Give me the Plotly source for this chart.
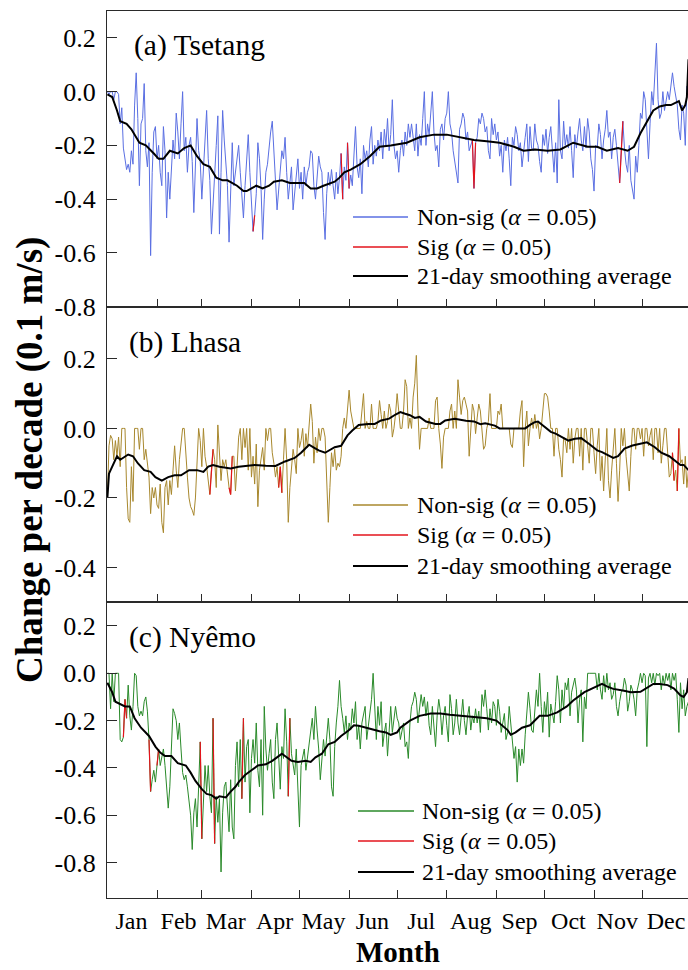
import plotly.graph_objects as go
from plotly.subplots import make_subplots

# ---------------- data ----------------
days = list(range(1, 366))
month_names = ["Jan", "Feb", "Mar", "Apr", "May", "Jun", "Jul", "Aug", "Sep", "Oct", "Nov", "Dec"]
month_mid = [16, 45.5, 75, 105.5, 136, 166.5, 197, 228, 258.5, 289, 319.5, 350]
month_start = [32, 60, 91, 121, 152, 182, 213, 244, 274, 305, 335]

ytick_a = [0.2, 0.0, -0.2, -0.4, -0.6, -0.8]
ytick_b = [0.2, 0.0, -0.2, -0.4]
ytick_c = [0.2, 0.0, -0.2, -0.4, -0.6, -0.8]

tsetang_daily = [
    0.0, -0.01, 0.0, 0.0, -0.03, 0.0, 0.0, -0.01, -0.12, -0.06,
    -0.21, -0.25, -0.29, -0.27, -0.30, -0.22, -0.27, -0.05, 0.07, -0.10,
    -0.35, -0.12, -0.10, 0.03, -0.22, -0.28, -0.19, -0.61, -0.30, -0.15,
    -0.13, -0.25, -0.20, -0.30, -0.35, -0.13, -0.22, -0.47, -0.30, -0.40,
    -0.26, -0.18, -0.25, -0.08, -0.15, -0.25, -0.12, 0.0, -0.22, -0.17,
    -0.30, -0.20, -0.17, -0.26, -0.45, -0.30, -0.10, -0.22, -0.26, -0.40,
    -0.30, -0.20, -0.07, -0.25, -0.33, -0.53, -0.40, -0.28, -0.20, -0.09,
    -0.53, -0.30, -0.07, -0.18, -0.26, -0.35, -0.56, -0.40, -0.19, -0.35,
    -0.30, -0.24, -0.20, -0.30, -0.38, -0.47, -0.35, -0.25, -0.16, -0.30,
    -0.40, -0.52, -0.46, -0.38, -0.19, -0.25, -0.36, -0.55, -0.40, -0.30,
    -0.27, -0.20, -0.15, -0.11, -0.25, -0.33, -0.44, -0.36, -0.28, -0.22,
    -0.25, -0.17, -0.30, -0.40, -0.34, -0.28, -0.44, -0.38, -0.30, -0.25,
    -0.36, -0.30, -0.40, -0.28, -0.35, -0.30, -0.28, -0.22, -0.23, -0.35,
    -0.40, -0.30, -0.24, -0.28, -0.30, -0.45, -0.55, -0.38, -0.30, -0.35,
    -0.29, -0.35, -0.40, -0.30, -0.38, -0.32, -0.23, -0.40, -0.28, -0.33,
    -0.19, -0.36, -0.31, -0.35, -0.25, -0.13, -0.28, -0.32, -0.25, -0.38,
    -0.20, -0.25, -0.22, -0.28, -0.18, -0.13, -0.27, -0.20, -0.24, -0.18,
    -0.22, -0.15, -0.25, -0.14, -0.20, -0.10, -0.22, -0.16, -0.03, -0.20,
    -0.25, -0.22, -0.30, -0.22, -0.18, -0.24, -0.15, -0.20, -0.12, -0.17,
    -0.12, -0.18, -0.22, -0.12, -0.24, -0.16, -0.20, -0.10, 0.0, -0.20,
    -0.12, -0.16, -0.08, 0.0, -0.15, -0.22, -0.20, -0.28, -0.14, -0.12,
    -0.18, -0.10, -0.08, 0.0, -0.12, -0.15, -0.22, -0.26, -0.30, -0.34,
    -0.14, -0.12, -0.08, -0.10, -0.18, -0.15, -0.22, -0.20, -0.18, -0.36,
    -0.19, -0.17, -0.10, -0.12, -0.08, -0.10, -0.15, -0.13, -0.22, -0.25,
    -0.10, -0.16, -0.12, -0.18, -0.15, -0.24, -0.20, -0.30, -0.18, -0.22,
    -0.17, -0.25, -0.35, -0.17, -0.20, -0.13, -0.16, -0.22, -0.19, -0.28,
    -0.21, -0.17, -0.12, -0.26, -0.13, -0.21, -0.22, -0.12, -0.18, -0.20,
    -0.26, -0.30, -0.16, -0.20, -0.14, -0.23, -0.17, -0.13, -0.22, -0.30,
    -0.19, -0.34, -0.03, -0.22, -0.25, -0.11, -0.20, -0.16, -0.21, -0.13,
    -0.22, -0.32, -0.16, -0.21, -0.15, -0.10, -0.18, -0.22, -0.13, -0.21,
    -0.10, -0.15, -0.25, -0.29, -0.37, -0.20, -0.21, -0.12, -0.16, -0.25,
    -0.18, -0.14, -0.07, -0.17, -0.15, -0.25, -0.17, -0.14, -0.20, -0.27,
    -0.34, -0.22, -0.11, -0.21, -0.27, -0.30, -0.20, -0.33, -0.37, -0.40,
    -0.24, -0.30, -0.20, -0.08, -0.10, 0.0, -0.03, -0.12, -0.25, -0.12,
    0.0, -0.05, 0.05, 0.18, -0.03, -0.10, -0.08, 0.0, -0.07, -0.04,
    0.0, -0.03, 0.03, 0.07, 0.02, -0.02, -0.05, -0.14, -0.18, -0.05,
    -0.08, -0.20, 0.02, 0.0, 0.05,
]
tsetang_sig_days = [92, 93, 147, 148, 151, 152, 229, 230, 231, 321, 322, 323]
tsetang_smooth_days = [1, 4, 7, 9, 13, 16, 21, 25, 30, 33, 36, 40, 45, 49, 53, 57, 61, 65, 69, 73,
                       76, 82, 86, 88, 91, 94, 98, 102, 105, 110, 115, 120, 124, 128, 132, 136, 140, 143, 146, 149,
                       153, 159, 165, 171, 178, 188, 196, 205, 213, 221, 230, 238, 246, 255, 261, 268, 276, 284, 292, 301,
                       307, 313, 320, 326, 330, 334, 338, 342, 346, 350, 353, 358, 360, 362, 363, 364]
tsetang_smooth = [-0.01, -0.02, -0.07, -0.11, -0.12, -0.14, -0.19, -0.20, -0.23, -0.25,
                  -0.25, -0.22, -0.23, -0.21, -0.20, -0.24, -0.27, -0.28, -0.32, -0.33,
                  -0.33, -0.35, -0.37, -0.37, -0.36, -0.35, -0.36, -0.35, -0.335, -0.33,
                  -0.34, -0.34, -0.34, -0.36, -0.36, -0.35, -0.34, -0.335, -0.32, -0.30,
                  -0.29, -0.27, -0.24, -0.205, -0.20, -0.19, -0.17, -0.16, -0.16, -0.17,
                  -0.18, -0.185, -0.19, -0.205, -0.22, -0.215, -0.22, -0.215, -0.19, -0.205,
                  -0.205, -0.22, -0.21, -0.22, -0.205, -0.155, -0.11, -0.07, -0.055, -0.05,
                  -0.05, -0.035, -0.07, -0.05, -0.02, 0.12]

lhasa_daily = [
    -0.20, -0.05, -0.02, -0.03, -0.09, -0.035, -0.08, -0.025, -0.11, 0.0,
    0.0, 0.0, -0.17, -0.26, -0.27, -0.11, -0.21, 0.0, 0.0, 0.0,
    -0.06, 0.0, 0.0, -0.09, -0.06, -0.10, -0.14, -0.245, -0.17, -0.20,
    -0.17, -0.22, -0.23, -0.16, -0.27, -0.30, -0.17, -0.15, -0.22, -0.15,
    -0.19, -0.12, -0.05, -0.12, -0.17, -0.09, -0.035, 0.0, 0.0, -0.08,
    -0.14, -0.20, -0.225, -0.235, -0.25, -0.20, -0.09, 0.0, -0.035, -0.11,
    0.0, -0.08, -0.11, -0.16, -0.19, -0.12, -0.06, -0.09, -0.17, 0.01,
    -0.09, -0.15, -0.09, -0.11, -0.09, -0.13, -0.17, -0.19, -0.08, -0.08,
    -0.18, -0.11, -0.025, 0.0, -0.09, 0.0, -0.055, 0.0, -0.12, 0.0,
    -0.14, -0.08, -0.16, -0.045, -0.225, -0.12, -0.09, -0.055, -0.12, 0.0,
    -0.035, 0.0, 0.0, -0.07, -0.10, -0.14, -0.11, -0.17, -0.11, -0.185,
    -0.09, 0.0, -0.09, -0.27, -0.17, -0.11, -0.06, -0.09, -0.13, 0.0,
    -0.055, -0.035, 0.0, -0.08, -0.015, -0.055, 0.02, 0.07, 0.02, -0.10,
    -0.025, -0.07, 0.0, -0.035, 0.0, 0.0, -0.025, -0.16, -0.27, -0.17,
    -0.07, -0.11, -0.06, -0.12, -0.10, -0.11, -0.08, 0.0, 0.03, 0.0,
    0.05, 0.11, 0.05, 0.02, 0.0, 0.0, 0.0, 0.0, 0.0, 0.05,
    0.10, 0.0, 0.02, 0.0, 0.0, 0.07, 0.0, 0.0, 0.0, 0.02,
    0.08, 0.04, 0.0, 0.05, 0.0, 0.02, 0.07, 0.05, -0.025, 0.0,
    0.04, 0.10, 0.05, 0.0, 0.0, 0.05, 0.14, 0.12, 0.0, 0.03,
    0.0, 0.09, 0.13, 0.21, 0.05, -0.06, 0.0, 0.0, 0.0, 0.0,
    0.0, 0.03, 0.0, 0.0, 0.0, 0.08, 0.09, 0.0, -0.045, -0.115,
    -0.025, 0.0, 0.0, 0.0, 0.05, 0.07, 0.0, 0.05, 0.0, 0.14,
    0.09, 0.04, 0.08, 0.09, 0.07, 0.05, -0.08, 0.0, 0.07, 0.05,
    -0.015, 0.03, 0.07, 0.05, 0.0, -0.06, -0.05, 0.0, 0.02, 0.10,
    0.0, 0.0, 0.0, 0.0, 0.05, 0.04, 0.07, 0.0, 0.0, 0.0,
    0.0, 0.0, -0.045, -0.055, 0.0, 0.0, 0.0, 0.0, 0.05, 0.08,
    -0.11, 0.0, 0.05, -0.05, 0.0, 0.03, 0.0, 0.04, 0.0, 0.02,
    -0.03, 0.0, 0.05, 0.10, 0.10, 0.09, 0.05, 0.0, 0.0, -0.08,
    0.0, 0.0, -0.06, -0.09, -0.14, -0.025, -0.035, -0.07, 0.0, -0.06,
    0.0, -0.10, -0.03, 0.0, 0.0, -0.08, 0.0, -0.12, 0.0, 0.0,
    -0.05, -0.10, 0.0, 0.0, -0.07, -0.13, -0.05, 0.0, -0.15, -0.08,
    -0.18, -0.10, 0.0, -0.15, -0.20, -0.12, -0.05, 0.0, -0.10, -0.21,
    -0.12, 0.0, -0.05, 0.0, -0.08, -0.13, -0.18, -0.08, 0.0, 0.0,
    -0.06, 0.0, 0.0, -0.03, 0.0, -0.08, 0.0, 0.0, -0.05, -0.02,
    0.0, -0.09, 0.0, 0.0, -0.07, 0.0, -0.10, -0.05, 0.0, 0.0,
    -0.08, -0.14, -0.13, -0.07, -0.15, -0.12, -0.18, 0.0, -0.10, -0.09,
    -0.16, -0.08, -0.17, -0.12, -0.10,
]
lhasa_sig_days = [65, 66, 67, 77, 78, 79, 108, 109, 110, 354, 355, 357, 358]
lhasa_smooth_days = [1, 2, 3, 5, 7, 9, 12, 14, 17, 20, 24, 28, 31, 35, 39, 43, 47, 52, 57, 61,
                     64, 67, 71, 78, 83, 88, 93, 100, 106, 112, 118, 122, 127, 130, 133, 137, 140, 143, 147, 151,
                     154, 158, 164, 168, 172, 177, 181, 184, 187, 190, 193, 196, 200, 206, 209, 212, 218, 221, 225, 230,
                     234, 237, 243, 246, 249, 255, 259, 262, 265, 268, 270, 274, 278, 281, 285, 289, 293, 297, 302, 307,
                     310, 314, 317, 320, 324, 329, 333, 338, 343, 347, 352, 356, 359, 361, 364]
lhasa_smooth = [-0.20, -0.13, -0.12, -0.10, -0.08, -0.09, -0.08, -0.075, -0.08, -0.10,
                -0.12, -0.125, -0.14, -0.15, -0.14, -0.135, -0.135, -0.12, -0.12, -0.125,
                -0.11, -0.105, -0.11, -0.115, -0.11, -0.107, -0.105, -0.107, -0.108, -0.095,
                -0.085, -0.07, -0.047, -0.055, -0.063, -0.07, -0.062, -0.054, -0.05, -0.02,
                -0.006, 0.01, 0.013, 0.013, 0.023, 0.028, 0.04, 0.047, 0.042, 0.038,
                0.03, 0.033, 0.02, 0.013, 0.013, 0.023, 0.028, 0.025, 0.022, 0.02,
                0.012, 0.015, 0.008, 0.0, 0.0, 0.0, 0.0, 0.0, 0.01, 0.018,
                0.02, 0.005, -0.01, -0.015, -0.025, -0.035, -0.03, -0.028, -0.045, -0.063,
                -0.068, -0.077, -0.085, -0.08, -0.058, -0.049, -0.045, -0.04, -0.054, -0.07,
                -0.08, -0.095, -0.105, -0.105, -0.12]

nyemo_daily = [
    0.0, 0.0, -0.15, 0.0, -0.12, 0.0, 0.0, 0.0, -0.28, -0.29,
    -0.27, -0.11, -0.19, -0.05, -0.18, -0.24, -0.14, 0.0, -0.01, -0.14,
    -0.18, -0.16, -0.18, -0.12, -0.10, -0.16, -0.28, -0.50, -0.45, -0.41,
    -0.46, -0.39, -0.32, -0.39, -0.36, -0.32, -0.39, -0.48, -0.57, -0.48,
    -0.28, -0.15, -0.17, -0.20, -0.28, -0.21, -0.32, -0.42, -0.45, -0.43,
    -0.48, -0.53, -0.60, -0.745, -0.59, -0.53, -0.65, -0.48, -0.29, -0.70,
    -0.56, -0.39, -0.50, -0.39, -0.52, -0.59, -0.19, -0.72, -0.52, -0.63,
    -0.53, -0.84, -0.59, -0.48, -0.46, -0.56, -0.67, -0.45, -0.65, -0.70,
    -0.39, -0.29, -0.48, -0.28, -0.53, -0.19, -0.46, -0.31, -0.28, -0.59,
    -0.36, -0.28, -0.38, -0.21, -0.41, -0.48, -0.28, -0.60, -0.14, -0.32,
    -0.41, -0.34, -0.28, -0.46, -0.53, -0.28, -0.21, -0.35, -0.49, -0.31,
    -0.36, -0.15, -0.29, -0.52, -0.19, -0.34, -0.38, -0.43, -0.32, -0.46,
    -0.65, -0.39, -0.35, -0.32, -0.41, -0.35, -0.29, -0.24, -0.19, -0.28,
    -0.14, -0.24, -0.32, -0.45, -0.38, -0.28, -0.35, -0.25, -0.19, -0.28,
    -0.48, -0.52, -0.31, -0.21, -0.14, -0.03, -0.14, -0.19, -0.25, -0.18,
    -0.28, -0.21, -0.24, -0.15, -0.21, -0.12, -0.28, -0.22, -0.32, -0.21,
    -0.17, -0.14, -0.28, -0.22, -0.18, -0.11, 0.0, -0.18, -0.28, -0.14,
    -0.22, -0.12, -0.31, -0.25, -0.21, -0.35, -0.22, -0.14, -0.25, -0.19,
    -0.14, -0.19, -0.21, -0.28, -0.24, -0.21, -0.31, -0.29, -0.36, -0.21,
    -0.14, -0.12, -0.08, -0.11, -0.21, -0.15, -0.09, -0.14, -0.10, -0.18,
    -0.12, -0.22, -0.26, -0.14, -0.24, -0.31, -0.18, -0.11, -0.16, -0.26,
    -0.18, -0.14, -0.22, -0.29, -0.09, -0.15, -0.26, -0.21, -0.11, -0.21,
    -0.26, -0.18, -0.11, -0.20, -0.26, -0.18, -0.14, -0.24, -0.18, -0.21,
    -0.15, -0.21, -0.16, -0.25, -0.09, -0.14, -0.07, -0.15, -0.24, -0.15,
    -0.21, -0.12, -0.14, -0.22, -0.11, -0.16, -0.25, -0.21, -0.17, -0.28,
    -0.25, -0.14, -0.21, -0.29, -0.36, -0.31, -0.46, -0.32, -0.39, -0.32,
    -0.38, -0.26, -0.18, -0.08, -0.15, -0.24, -0.25, -0.15, -0.07, -0.14,
    0.0, -0.14, -0.25, -0.12, -0.18, -0.08, -0.27, -0.13, -0.18, -0.21,
    -0.12, -0.01, -0.07, -0.21, -0.07, -0.15, -0.04, -0.07, -0.02, -0.18,
    -0.08, -0.05, -0.02, -0.07, -0.21, -0.11, -0.07, -0.29, -0.10, -0.15,
    0.0, 0.0, 0.0, 0.0, 0.0, 0.0, -0.07, 0.0, -0.07, -0.11,
    -0.01, -0.08, 0.0, -0.07, -0.04, -0.11, -0.09, -0.04, -0.14, -0.18,
    -0.12, -0.08, -0.07, -0.02, -0.05, -0.16, -0.12, -0.05, -0.07, -0.11,
    -0.18, -0.07, -0.04, 0.0, -0.04, 0.0, -0.01, -0.31, -0.02, 0.0,
    -0.04, 0.0, -0.05, 0.0, -0.01, 0.0, -0.07, -0.01, -0.05, 0.0,
    -0.03, 0.0, -0.07, 0.0, -0.03, 0.0, -0.11, -0.25, -0.04, -0.15,
    -0.07, -0.18, -0.14, -0.12, -0.10,
]
nyemo_sig_days = [11, 12, 13, 27, 28, 32, 33, 59, 60, 67, 68, 85, 86, 114, 115]
nyemo_smooth_days = [1, 4, 6, 9, 12, 15, 18, 22, 27, 31, 34, 37, 41, 45, 50, 53, 56, 60, 63, 66,
                     69, 71, 75, 78, 81, 83, 87, 91, 95, 100, 104, 108, 110, 113, 116, 120, 125, 128, 131, 135,
                     139, 143, 147, 152, 155, 158, 162, 166, 171, 175, 178, 182, 184, 190, 196, 203, 209, 215, 221, 230,
                     238, 244, 251, 253, 256, 260, 265, 271, 276, 282, 288, 292, 299, 305, 310, 313, 317, 323, 328, 334,
                     338, 342, 346, 351, 355, 359, 361, 363, 364]
nyemo_smooth = [-0.04, -0.08, -0.12, -0.13, -0.14, -0.14, -0.19, -0.23, -0.265, -0.31,
                -0.335, -0.35, -0.35, -0.38, -0.39, -0.42, -0.455, -0.49, -0.51, -0.515,
                -0.53, -0.52, -0.525, -0.50, -0.48, -0.46, -0.43, -0.41, -0.39, -0.385,
                -0.37, -0.35, -0.34, -0.355, -0.37, -0.375, -0.37, -0.375, -0.355, -0.34,
                -0.30, -0.29, -0.265, -0.24, -0.22, -0.222, -0.23, -0.236, -0.245, -0.25,
                -0.26, -0.25, -0.23, -0.20, -0.18, -0.17, -0.17, -0.175, -0.18, -0.185,
                -0.19, -0.20, -0.24, -0.26, -0.25, -0.23, -0.22, -0.18, -0.18, -0.165,
                -0.14, -0.115, -0.08, -0.06, -0.045, -0.055, -0.066, -0.073, -0.08, -0.078,
                -0.06, -0.045, -0.045, -0.05, -0.065, -0.094, -0.10, -0.08, -0.02]

for arr in (tsetang_daily, lhasa_daily, nyemo_daily):
    assert len(arr) == 365, len(arr)
assert len(tsetang_smooth_days) == len(tsetang_smooth)
assert len(lhasa_smooth_days) == len(lhasa_smooth)
assert len(nyemo_smooth_days) == len(nyemo_smooth)

# ---------------- styling ----------------
FONT = "Liberation Serif, Times New Roman, serif"
AXC = "#2a2a2a"
RED = "#e3141c"
stations = [
    dict(label="(a) Tsetang", daily=tsetang_daily, sig=tsetang_sig_days, sd=tsetang_smooth_days,
         sv=tsetang_smooth, color="#5a6fe2", yr=[-0.8, 0.3], ticks=ytick_a, lab=(132, 45),
         leg_x=(353, 408, 415), leg_y=(217, 247, 276)),
    dict(label="(b) Lhasa", daily=lhasa_daily, sig=lhasa_sig_days, sd=lhasa_smooth_days,
         sv=lhasa_smooth, color="#a8882e", yr=[-0.5, 0.35], ticks=ytick_b, lab=(127, 342),
         leg_x=(353, 408, 415), leg_y=(505, 535, 566)),
    dict(label="(c) Ny\u00eamo", daily=nyemo_daily, sig=nyemo_sig_days, sd=nyemo_smooth_days,
         sv=nyemo_smooth, color="#2a8a2a", yr=[-0.95, 0.3], ticks=ytick_c, lab=(127, 637),
         leg_x=(358, 414, 420), leg_y=(811, 841, 872)),
]

W, H = 688, 970
ML, MR, MT, MB = 107, 0, 11, 72
PW = W - ML - MR
PH = H - MT - MB


def px_to_paper_x(px):
    return (px - ML) / PW


def py_to_paper_y(py):
    return (H - MB - py) / PH


fig = make_subplots(rows=3, cols=1, vertical_spacing=0)

for i, st in enumerate(stations):
    row = i + 1
    fig.add_trace(go.Scatter(x=days, y=st["daily"], mode="lines",
                             line=dict(color=st["color"], width=1), showlegend=False,
                             hoverinfo="skip"), row=row, col=1)
    sigset = set(st["sig"])
    red_y = [v if d in sigset else None for d, v in zip(days, st["daily"])]
    fig.add_trace(go.Scatter(x=days, y=red_y, mode="lines", connectgaps=False,
                             line=dict(color=RED, width=1.2), showlegend=False,
                             hoverinfo="skip"), row=row, col=1)
    fig.add_trace(go.Scatter(x=st["sd"], y=st["sv"], mode="lines",
                             line=dict(color="black", width=2), showlegend=False,
                             hoverinfo="skip"), row=row, col=1)

    xa = "xaxis" if row == 1 else f"xaxis{row}"
    ya = "yaxis" if row == 1 else f"yaxis{row}"
    fig.layout[xa].update(
        range=[0.76, 363.7], showline=True, linecolor=AXC, linewidth=1.3, mirror=True,
        showgrid=False, zeroline=False, ticks="",
        tickmode="array", tickvals=month_mid, ticktext=month_names,
        showticklabels=(row == 3), ticklabelstandoff=1,
        tickfont=dict(family=FONT, size=24, color="black"),
        minor=dict(tickmode="array", tickvals=month_start, ticks="inside", ticklen=8,
                   tickcolor=AXC, tickwidth=1.3, showgrid=False),
    )
    fig.layout[ya].update(
        range=st["yr"], showline=True, linecolor=AXC, linewidth=1.3, mirror=False,
        showgrid=False, zeroline=False, ticks="inside", ticklen=10, tickwidth=1.3, tickcolor=AXC,
        tickmode="array", tickvals=st["ticks"],
        ticktext=[("%.1f" % v).replace("\u2212", "-") for v in st["ticks"]],
        tickfont=dict(family=FONT, size=26, color="black"), ticklabelstandoff=5,
    )

    # panel label
    top = MT + i * PH / 3
    bottom = top + PH / 3
    ydom = "y domain" if row == 1 else f"y{row} domain"
    lx, ly = st["lab"]
    fig.add_annotation(text=st["label"], xref="paper", yref=ydom,
                       x=px_to_paper_x(lx), y=(bottom - ly) / (PH / 3),
                       xanchor="left", yanchor="middle", showarrow=False,
                       font=dict(family=FONT, size=29.5, color="black"))

    # legend (drawn in panel)
    x0, x1, xt = st["leg_x"]
    entries = [(st["color"], 1.3, "Non-sig (<i>\u03b1</i> = 0.05)"),
               (RED, 1.3, "Sig (<i>\u03b1</i> = 0.05)"),
               ("black", 2, "21-day smoothing average")]
    for (c, w, txt), yy in zip(entries, st["leg_y"]):
        yd = (bottom - yy) / (PH / 3)
        fig.add_shape(type="line", xref="paper", yref=ydom,
                      x0=px_to_paper_x(x0), x1=px_to_paper_x(x1), y0=yd, y1=yd,
                      line=dict(color=c, width=w))
        fig.add_annotation(text=txt, xref="paper", yref=ydom, x=px_to_paper_x(xt), y=yd,
                           xanchor="left", yanchor="middle", showarrow=False,
                           font=dict(family=FONT, size=24, color="black"))

fig.add_annotation(text="<b>Change per decade (0.1 m/s)</b>", xref="paper", yref="paper",
                   x=px_to_paper_x(30), y=py_to_paper_y(460), textangle=-90,
                   xanchor="center", yanchor="middle",
                   showarrow=False, font=dict(family=FONT, size=37, color="black"))
fig.add_annotation(text="<b>Month</b>", xref="paper", yref="paper",
                   x=0.5, y=py_to_paper_y(952), xanchor="center", yanchor="middle",
                   showarrow=False, font=dict(family=FONT, size=29, color="black"))

fig.update_layout(width=W, height=H, margin=dict(l=ML, r=MR, t=MT, b=MB, pad=0),
                  paper_bgcolor="white", plot_bgcolor="white", showlegend=False)

fig.write_html("out.html")
